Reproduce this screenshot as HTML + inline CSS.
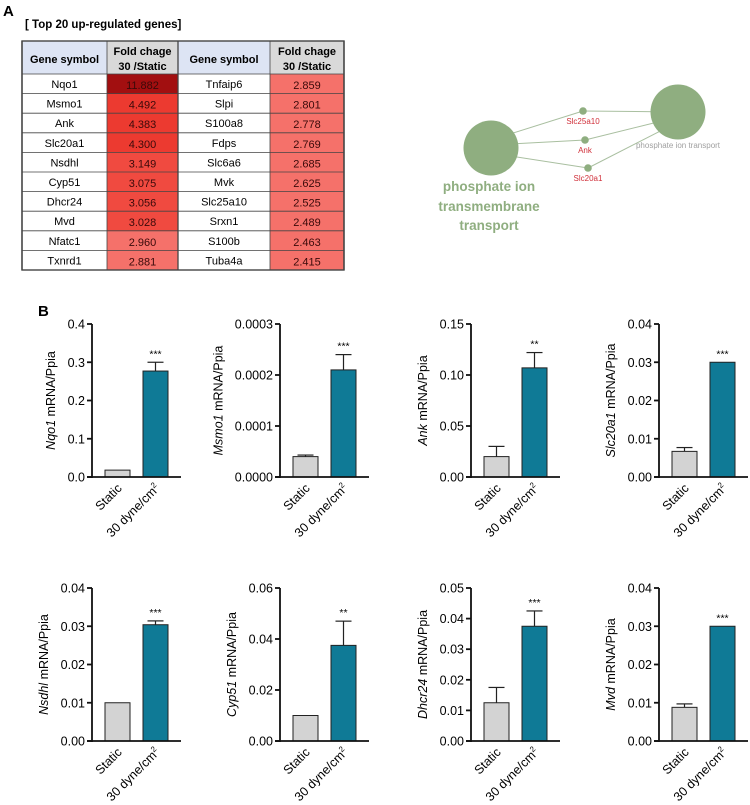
<!DOCTYPE html>
<html><head><meta charset="utf-8"><style>
body{margin:0;background:#fff;}
svg{display:block;font-family:"Liberation Sans",Arial,sans-serif;}
</style></head><body>
<svg id="fig" width="750" height="805" viewBox="0 0 750 805">
<text x="3" y="16" font-size="15" font-weight="bold">A</text>
<text x="25" y="28" font-size="11.5" font-weight="bold">[ Top 20 up-regulated genes]</text>
<g id="table"></g>
<g id="network">
<line x1="491" y1="140" x2="583" y2="111" stroke="#a9bfa0" stroke-width="1"/>
<line x1="491" y1="145" x2="585" y2="140" stroke="#a9bfa0" stroke-width="1"/>
<line x1="491" y1="153" x2="588" y2="168" stroke="#a9bfa0" stroke-width="1"/>
<line x1="583" y1="111" x2="678" y2="112" stroke="#a9bfa0" stroke-width="1"/>
<line x1="585" y1="140" x2="678" y2="117" stroke="#a9bfa0" stroke-width="1"/>
<line x1="588" y1="168" x2="678" y2="122" stroke="#a9bfa0" stroke-width="1"/>
<circle cx="491" cy="148" r="27.5" fill="#8fae80"/>
<circle cx="678" cy="112" r="27.5" fill="#8fae80"/>
<circle cx="583" cy="111" r="3.8" fill="#8fae80"/>
<circle cx="585" cy="140" r="3.8" fill="#8fae80"/>
<circle cx="588" cy="168" r="3.8" fill="#8fae80"/>
<text x="583" y="124" font-size="8" fill="#d0303a" text-anchor="middle">Slc25a10</text>
<text x="585" y="153" font-size="8" fill="#d0303a" text-anchor="middle">Ank</text>
<text x="588" y="181" font-size="8" fill="#d0303a" text-anchor="middle">Slc20a1</text>
<text x="678" y="148" font-size="8" fill="#a0a0a0" text-anchor="middle">phosphate ion transport</text>
<g font-size="13.5" font-weight="bold" fill="#8fae80" text-anchor="middle">
<text x="489" y="191">phosphate ion</text>
<text x="489" y="211">transmembrane</text>
<text x="489" y="230">transport</text>
</g>
</g>
<text x="38" y="316" font-size="15" font-weight="bold">B</text>
<g id="charts"></g>
</svg>
<script>
const NS="http://www.w3.org/2000/svg";
function mk(tag,attrs,parent){const e=document.createElementNS(NS,tag);for(const k in attrs)e.setAttribute(k,attrs[k]);parent.appendChild(e);return e;}

// ---- table data ----
const leftGenes=["Nqo1","Msmo1","Ank","Slc20a1","Nsdhl","Cyp51","Dhcr24","Mvd","Nfatc1","Txnrd1"];
const leftFold=["11.882","4.492","4.383","4.300","3.149","3.075","3.056","3.028","2.960","2.881"];
const rightGenes=["Tnfaip6","Slpi","S100a8","Fdps","Slc6a6","Mvk","Slc25a10","Srxn1","S100b","Tuba4a"];
const rightFold=["2.859","2.801","2.778","2.769","2.685","2.625","2.525","2.489","2.463","2.415"];
function foldColor(v){
  v=parseFloat(v);
  if(v>10) return "#a20f10";
  if(v>=4.2) return "#ec3a30";
  if(v>=3.0) return "#f04a40";
  return "#f5716a";
}
const tbl=document.getElementById('table');
const tCols=[22,107,178,270,344], tTop=41, tHb=74, tRh=19.6;
mk('rect',{x:22,y:tTop,width:85,height:tHb-tTop,fill:"#dde4f4"},tbl);
mk('rect',{x:107,y:tTop,width:71,height:tHb-tTop,fill:"#d9d9d9"},tbl);
mk('rect',{x:178,y:tTop,width:92,height:tHb-tTop,fill:"#dde4f4"},tbl);
mk('rect',{x:270,y:tTop,width:74,height:tHb-tTop,fill:"#d9d9d9"},tbl);
[["Gene symbol",64.5],["Gene symbol",224]].forEach(h=>{const t=mk('text',{x:h[1],y:63,"font-size":11,"font-weight":"bold","text-anchor":"middle"},tbl);t.textContent=h[0];});
[142.5,307].forEach(x=>{let t=mk('text',{x:x,y:55,"font-size":11,"font-weight":"bold","text-anchor":"middle"},tbl);t.textContent="Fold chage";t=mk('text',{x:x,y:70,"font-size":11,"font-weight":"bold","text-anchor":"middle"},tbl);t.textContent="30 /Static";});
for(let i=0;i<10;i++){
  const yy=tHb+i*tRh;
  const r=mk('g',{},tbl);
  
  
  mk('rect',{x:107,y:yy,width:71,height:tRh,fill:foldColor(leftFold[i])},r);
  mk('rect',{x:270,y:yy,width:74,height:tRh,fill:foldColor(rightFold[i])},r);
  let t=mk('text',{x:64.5,y:yy+14,"font-size":11,"text-anchor":"middle"},r);t.textContent=leftGenes[i];
  t=mk('text',{x:142.5,y:yy+15,"font-size":11,"text-anchor":"middle",fill:"#3a0a0a"},r);t.textContent=leftFold[i];
  t=mk('text',{x:224,y:yy+14,"font-size":11,"text-anchor":"middle"},r);t.textContent=rightGenes[i];
  t=mk('text',{x:307,y:yy+15,"font-size":11,"text-anchor":"middle",fill:"#3a0a0a"},r);t.textContent=rightFold[i];
  mk('line',{x1:22,y1:yy,x2:344,y2:yy,stroke:"#444","stroke-width":0.8},tbl);
}
tCols.forEach((x,i)=>mk('line',{x1:x,y1:tTop,x2:x,y2:270,stroke:"#444","stroke-width":(i==0||i==4||i==2)?1.3:0.8},tbl));
mk('rect',{x:22,y:tTop,width:322,height:270-tTop,fill:"none",stroke:"#444","stroke-width":1.4},tbl);

// ---- chart data ----
const genes=["Nqo1","Msmo1","Ank","Slc20a1","Nsdhl","Cyp51","Dhcr24","Mvd"];
const categories=["Static","30 dyne/cm²"];
const staticMean=[0.018,0.00004,0.02,0.0067,0.01,0.01,0.0125,0.0088];
const staticErr=[0,0.000003,0.01,0.001,0,0,0.005,0.0009];
const flowMean=[0.277,0.00021,0.107,0.030,0.0304,0.0375,0.0375,0.030];
const flowErr=[0.023,0.00003,0.015,0,0.001,0.0095,0.005,0];
const yMax=[0.4,0.0003,0.15,0.04,0.04,0.06,0.05,0.04];
const yTicks=[
 ["0.0","0.1","0.2","0.3","0.4"],
 ["0.0000","0.0001","0.0002","0.0003"],
 ["0.00","0.05","0.10","0.15"],
 ["0.00","0.01","0.02","0.03","0.04"],
 ["0.00","0.01","0.02","0.03","0.04"],
 ["0.00","0.02","0.04","0.06"],
 ["0.00","0.01","0.02","0.03","0.04","0.05"],
 ["0.00","0.01","0.02","0.03","0.04"]];
const stars=["***","***","**","***","***","**","***","***"];

const axX=[92,280,471,659];
const charts=document.getElementById('charts');
genes.forEach((g,i)=>{
  const ax=axX[i%4], row=Math.floor(i/4);
  const base=row==0?477:741, topY=row==0?324:588;
  const y=v=>base-(v/yMax[i])*(base-topY);
  const G=mk('g',{},charts);
  
  
  const x1=ax+13, x2=ax+51, bw=25;
  const bars=[[x1,staticMean[i],staticErr[i],"#d3d3d3"],[x2,flowMean[i],flowErr[i],"#0f7a96"]];
  bars.forEach((b,j)=>{
    const yt=y(b[1]);
    const cx=b[0]+bw/2;
    if(b[2]>0){
      const ye=y(b[1]+b[2]);
      mk('line',{x1:cx,y1:yt,x2:cx,y2:ye,stroke:"#222","stroke-width":1.2},G);
      mk('line',{x1:cx-8,y1:ye,x2:cx+8,y2:ye,stroke:"#222","stroke-width":1.2},G);
    }
    const r=mk('rect',{x:b[0],y:yt,width:bw,height:base-yt,fill:b[3],stroke:"#222","stroke-width":1},G);
    
    
    const lt=mk('text',{transform:`translate(${cx+5},${base+12}) rotate(-45)`,"font-size":12.5,"text-anchor":"end"},G);
    
    
    if(j==0) lt.textContent=categories[0];
    else { lt.textContent="30 dyne/cm"; const s=mk('tspan',{"font-size":8,dy:-5},lt); s.textContent="2"; }
  });
  const st=mk('text',{x:x2+bw/2,y:y(flowMean[i]+flowErr[i])-5,"font-size":10.5,"text-anchor":"middle"},G);
  
  
  st.textContent=stars[i];
  mk('line',{x1:ax,y1:topY,x2:ax,y2:base+1,stroke:"#111","stroke-width":1.8},G);
  mk('line',{x1:ax-5,y1:base,x2:ax+89,y2:base,stroke:"#111","stroke-width":1.8},G);
  const n=yTicks[i].length;
  let maxW=0;
  yTicks[i].forEach((lab,k)=>{
    const ty=base-(k/(n-1))*(base-topY);
    mk('line',{x1:ax-5,y1:ty,x2:ax,y2:ty,stroke:"#111","stroke-width":1.8},G);
    const t=mk('text',{x:ax-7,y:ty+4.5,"font-size":12.5,"text-anchor":"end"},G);
    
    
    t.textContent=lab;
    maxW=Math.max(maxW,lab.length);
  });
  const lx=ax-10-maxW*6.95-6, ly=(base+topY)/2;
  const yl=mk('text',{transform:`translate(${lx},${ly}) rotate(-90)`,"font-size":12.5,"text-anchor":"middle"},G);
  
  
  const it=mk('tspan',{"font-style":"italic"},yl); it.textContent=g;
  const rest=mk('tspan',{},yl); rest.textContent=" mRNA/Ppia";
});
</script>
</body></html>
